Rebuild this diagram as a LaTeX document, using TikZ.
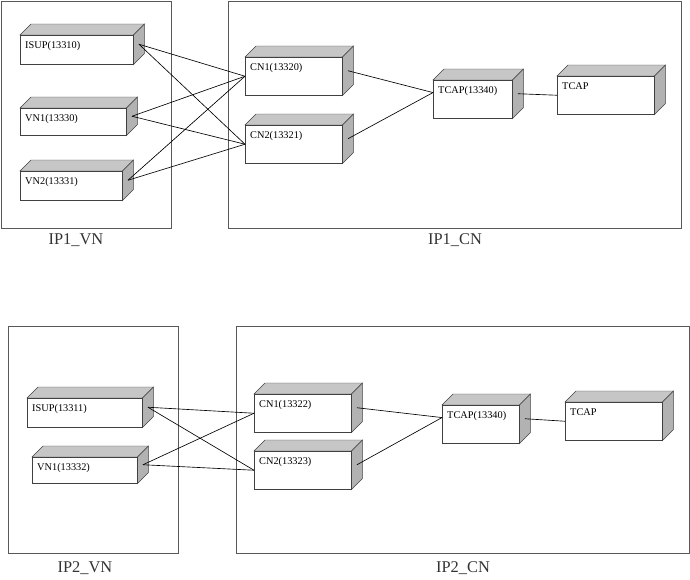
\documentclass[tikz,border=0pt]{standalone}
\usepackage{fontspec}
\setmainfont{Liberation Serif}
\begin{document}
\begin{tikzpicture}
				[x=0.03cm,y=-0.03cm,
				frame/.style={draw=black!65,line width=0.8pt},
				group/.style={font=\fontsize{14}{16}\selectfont,text=black!80},
				boxtext/.style={anchor=north west,inner sep=0pt,xshift=0.15cm,yshift=-0.19cm,font=\fontsize{8.8}{10}\selectfont},
				link/.style={draw=black,line width=0.55pt},
				box3d/.style 2 args={draw=black!75,fill=white,inner sep=0pt,anchor=north west,
					minimum width=#1*0.03cm,minimum height=#2*0.03cm,
					append after command={\pgfextra{
						\filldraw[fill=gray!45,draw=black!75] (\tikzlastnode.north west) -- ++(0.33cm,0.33cm)
							-- ([shift={(0.33cm,0.33cm)}]\tikzlastnode.north east) -- (\tikzlastnode.north east) -- cycle;
						\filldraw[fill=gray!60,draw=black!75] (\tikzlastnode.north east) -- ++(0.33cm,0.33cm)
							-- ([shift={(0.33cm,0.33cm)}]\tikzlastnode.south east) -- (\tikzlastnode.south east) -- cycle;
						\coordinate (\tikzlastnode-r) at ([shift={(0.165cm,0.165cm)}]\tikzlastnode.east);
					}}}]
				\useasboundingbox (0,0) rectangle (690,580);
				\draw[frame] (1,1) rectangle (171,228);
				\draw[frame] (228,1) rectangle (681,228);
				\node[group] (ipvnA) at (76,240) {IP1\_VN};
				\node[group] (ipcnA) at (455,240) {IP1\_CN};
				\node[box3d={113}{29},label={[boxtext]north west:ISUP(13310)}] (isupA) at (20,35) {};
				\node[box3d={106}{27},label={[boxtext]north west:VN1(13330)}] (vnA) at (20,108) {};
				\node[box3d={102}{29},label={[boxtext]north west:VN2(13331)}] (vnB) at (20,171) {};
				\node[box3d={97}{38},label={[boxtext]north west:CN1(13320)}] (cnA) at (245,57) {};
				\node[box3d={97}{38},label={[boxtext]north west:CN2(13321)}] (cnB) at (245,125) {};
				\node[box3d={79}{38},label={[boxtext]north west:TCAP(13340)}] (tcapA) at (433,80) {};
				\node[box3d={97}{38},label={[boxtext]north west:TCAP}] (tcapB) at (557,76) {};
				\draw[link] (isupA-r) -- (cnA.west);
				\draw[link] (isupA-r) -- (cnB.west);
				\draw[link] (vnA-r) -- (cnA.west);
				\draw[link] (vnA-r) -- (cnB.west);
				\draw[link] (vnB-r) -- (cnA.west);
				\draw[link] (vnB-r) -- (cnB.west);
				\draw[link] (cnA-r) -- ([yshift=0.2cm]tcapA.west);
				\draw[link] (cnB-r) -- ([yshift=0.2cm]tcapA.west);
				\draw[link] (tcapA-r) -- (tcapB.west);
				\draw[frame] (8,326) rectangle (178,553);
				\draw[frame] (236,326) rectangle (689,553);
				\node[group] (ipvnB) at (85,568) {IP2\_VN};
				\node[group] (ipcnB) at (463,568) {IP2\_CN};
				\node[box3d={115}{29},label={[boxtext]north west:ISUP(13311)}] (isupB) at (27,398) {};
				\node[box3d={105}{26},label={[boxtext]north west:VN1(13332)}] (vnC) at (32,457) {};
				\node[box3d={97}{38},label={[boxtext]north west:CN1(13322)}] (cnC) at (254,394) {};
				\node[box3d={97}{38},label={[boxtext]north west:CN2(13323)}] (cnD) at (254,451) {};
				\node[box3d={77}{38},label={[boxtext]north west:TCAP(13340)}] (tcapC) at (442,405) {};
				\node[box3d={97}{38},label={[boxtext]north west:TCAP}] (tcapD) at (565,402) {};
				\draw[link] (isupB-r) -- (cnC.west);
				\draw[link] (isupB-r) -- (cnD.west);
				\draw[link] (vnC-r) -- (cnC.west);
				\draw[link] (vnC-r) -- (cnD.west);
				\draw[link] (cnC-r) -- ([yshift=0.2cm]tcapC.west);
				\draw[link] (cnD-r) -- ([yshift=0.2cm]tcapC.west);
				\draw[link] (tcapC-r) -- (tcapD.west);
			\end{tikzpicture}
\end{document}
